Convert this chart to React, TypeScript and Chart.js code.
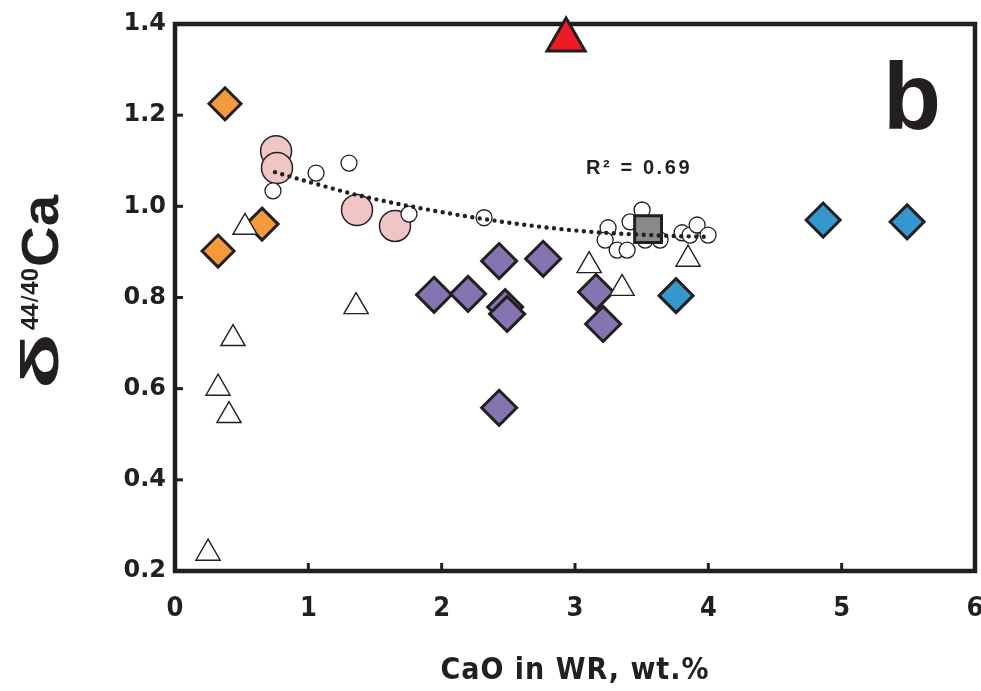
import React, { useEffect, useRef } from 'react';
import { Chart, registerables } from 'chart.js';
Chart.register(...registerables);

// Axis ticks
const xTickValues = [0, 1, 2, 3, 4, 5, 6];
const yTickValues = [0.2, 0.4, 0.6, 0.8, 1.0, 1.2, 1.4];

// Series (CaO wt.% , δ44/40Ca)
const orangeX = [0.375, 0.653, 0.323];
const orangeY = [1.225, 0.961, 0.902];

const redX = [2.933];
const redY = [1.365];

const pinkX = [0.758, 0.765, 1.365, 1.65];
const pinkY = [1.121, 1.084, 0.992, 0.957];

const whiteCircleX = [0.735, 1.058, 1.305, 1.755, 2.318, 3.503, 3.413, 3.248, 3.226, 3.316, 3.391, 3.526, 3.638, 3.803, 3.863, 3.916, 3.998];
const whiteCircleY = [1.034, 1.073, 1.095, 0.983, 0.975, 0.992, 0.966, 0.953, 0.926, 0.904, 0.904, 0.926, 0.926, 0.942, 0.937, 0.959, 0.937];

const triangleX = [0.525, 0.435, 0.323, 0.405, 0.248, 1.358, 3.106, 3.353, 3.848];
const triangleY = [0.954, 0.710, 0.601, 0.541, 0.239, 0.780, 0.870, 0.820, 0.884];

const purpleX = [1.943, 2.198, 2.431, 2.761, 2.476, 2.491, 3.158, 3.211, 2.431];
const purpleY = [0.806, 0.808, 0.880, 0.885, 0.779, 0.764, 0.812, 0.742, 0.558];

const blueX = [3.758, 4.861, 5.491];
const blueY = [0.804, 0.970, 0.966];

const squareX = [3.548];
const squareY = [0.950];

// Trend line
const trendX = [0.75, 1.035, 1.365, 1.95, 2.46, 3.04, 3.64, 4.01];
const trendY = [1.075, 1.051, 1.025, 0.99, 0.966, 0.946, 0.936, 0.933];

const r2Label = 'R² = 0.69';
const panelLabel = 'b';
const xTitle = 'CaO in WR, wt.%';

const pts = (xs: number[], ys: number[]) => xs.map((x, i) => ({ x, y: ys[i] }));

const DARK = '#231f20';

export default function App() {
  const ref = useRef<HTMLCanvasElement | null>(null);

  useEffect(() => {
    const canvas = ref.current;
    if (!canvas) return;

    const framePlugin = {
      id: 'framePlugin',
      beforeDatasetsDraw(chart: any) {
        const { ctx, chartArea } = chart;
        const { left, right, top, bottom } = chartArea;
        const xs = chart.scales.x;
        const ys = chart.scales.y;
        ctx.save();
        ctx.strokeStyle = DARK;
        ctx.lineWidth = 3;
        ctx.lineCap = 'butt';
        yTickValues.forEach((v) => {
          const py = ys.getPixelForValue(v);
          ctx.beginPath();
          ctx.moveTo(left, py);
          ctx.lineTo(left + 8, py);
          ctx.stroke();
        });
        xTickValues.forEach((v) => {
          const px = xs.getPixelForValue(v);
          ctx.beginPath();
          ctx.moveTo(px, bottom);
          ctx.lineTo(px, bottom - 8);
          ctx.stroke();
        });
        ctx.lineWidth = 4.5;
        ctx.lineJoin = 'miter';
        ctx.strokeRect(left, top, right - left, bottom - top);
        ctx.restore();
      },
      afterDraw(chart: any) {
        const { ctx, chartArea } = chart;
        ctx.save();
        ctx.fillStyle = DARK;
        ctx.textBaseline = 'alphabetic';
        ctx.textAlign = 'left';

        // Panel label
        ctx.font = 'bold 95px "Liberation Sans", Arial, sans-serif';
        ctx.fillText(panelLabel, 883, 129);

        // R² label
        ctx.font = 'bold 20px "Liberation Sans", Arial, sans-serif';
        (ctx as any).letterSpacing = '2.6px';
        ctx.fillText(r2Label, 586, 174);
        (ctx as any).letterSpacing = '0px';

        // X title
        ctx.textAlign = 'center';
        ctx.font = 'bold 30px "Liberation Sans Narrow", "DejaVu Sans Condensed", Arial, sans-serif';
        (ctx as any).letterSpacing = '1px';
        ctx.fillText(xTitle, (chartArea.left + chartArea.right) / 2, 679);
        (ctx as any).letterSpacing = '0px';

        // Y title: δ 44/40 Ca, rotated
        const bigFont = 'bold 52px "Liberation Sans", Arial, sans-serif';
        const supFont = 'bold 24px "Liberation Sans", Arial, sans-serif';
        const slashFont = '24px "Liberation Sans", Arial, sans-serif';
        const pieces = [
          { t: 'δ', f: bigFont, dy: 0, gap: 3, target: 56 },
          { t: '44', f: supFont, dy: -20, gap: 1, target: 0 },
          { t: '/', f: slashFont, dy: -20, gap: 1, target: 0 },
          { t: '40', f: supFont, dy: -20, gap: 1, target: 0 },
          { t: 'Ca', f: bigFont, dy: 0, gap: 0, target: 72 },
        ];
        let total = 0;
        const info = pieces.map((p) => {
          ctx.font = p.f;
          const w = ctx.measureText(p.t).width;
          const sx = p.target ? p.target / w : 1;
          total += w * sx + p.gap;
          return { w: w * sx, sx };
        });
        ctx.translate(58, 292);
        ctx.rotate(-Math.PI / 2);
        ctx.textAlign = 'left';
        let cx = -total / 2;
        pieces.forEach((p, i) => {
          ctx.font = p.f;
          ctx.save();
          ctx.translate(cx, p.dy);
          ctx.scale(info[i].sx, 1);
          ctx.fillText(p.t, 0, 0);
          ctx.restore();
          cx += info[i].w + p.gap;
        });
        ctx.restore();
      },
    };

    const chart = new Chart(canvas, {
      type: 'scatter',
      data: {
        datasets: [
          {
            label: 'trend',
            data: pts(trendX, trendY),
            showLine: true,
            pointRadius: 0,
            borderColor: DARK,
            borderWidth: 4.4,
            borderDash: [0, 7.5],
            borderCapStyle: 'round',
            cubicInterpolationMode: 'monotone',
            order: 0,
          } as any,
          {
            label: 'red',
            data: pts(redX, redY),
            pointStyle: 'triangle',
            pointRadius: 22,
            backgroundColor: '#ed1c24',
            borderColor: DARK,
            borderWidth: 3,
            order: 1,
          },
          {
            label: 'square',
            data: pts(squareX, squareY),
            pointStyle: 'rect',
            pointRadius: 19,
            backgroundColor: '#8a8a8a',
            borderColor: DARK,
            borderWidth: 3,
            order: 2,
          },
          {
            label: 'whiteCircles',
            data: pts(whiteCircleX, whiteCircleY),
            pointStyle: 'circle',
            pointRadius: 8,
            backgroundColor: '#ffffff',
            borderColor: DARK,
            borderWidth: 1.3,
            order: 3,
          },
          {
            label: 'pink',
            data: pts(pinkX, pinkY),
            pointStyle: 'circle',
            pointRadius: 15.5,
            backgroundColor: '#efc6c4',
            borderColor: DARK,
            borderWidth: 1.5,
            order: 4,
          },
          {
            label: 'triangles',
            data: pts(triangleX, triangleY),
            pointStyle: 'triangle',
            pointRadius: 14,
            backgroundColor: '#ffffff',
            borderColor: DARK,
            borderWidth: 1.4,
            order: 5,
          },
          {
            label: 'orange',
            data: pts(orangeX, orangeY),
            pointStyle: 'rectRot',
            pointRadius: 16,
            backgroundColor: '#f59a3b',
            borderColor: DARK,
            borderWidth: 3,
            order: 6,
          },
          {
            label: 'purple',
            data: pts(purpleX, purpleY),
            pointStyle: 'rectRot',
            pointRadius: 17.5,
            backgroundColor: '#8674b0',
            borderColor: DARK,
            borderWidth: 3,
            order: 7,
          },
          {
            label: 'blue',
            data: pts(blueX, blueY),
            pointStyle: 'rectRot',
            pointRadius: 17,
            backgroundColor: '#3597cf',
            borderColor: DARK,
            borderWidth: 3,
            order: 8,
          },
        ].map((d: any) => ({ clip: false, pointHoverRadius: d.pointRadius, ...d })),
      },
      options: {
        animation: false,
        responsive: false,
        devicePixelRatio: 1,
        events: [],
        layout: { autoPadding: false, padding: { top: 24, right: 6, left: 0, bottom: 0 } },
        plugins: { legend: { display: false }, tooltip: { enabled: false } },
        scales: {
          x: {
            type: 'linear',
            min: 0,
            max: 6,
            afterFit: (s: any) => { s.height = 120; s.paddingLeft = 0; s.paddingRight = 0; },
            afterBuildTicks: (s: any) => { s.ticks = xTickValues.map((v) => ({ value: v })); },
            grid: { display: false, drawTicks: false },
            border: { display: false },
            ticks: {
              padding: 22,
              color: DARK,
              font: { family: '"Liberation Sans Narrow", "DejaVu Sans Condensed", Arial, sans-serif', size: 27, weight: 'bold' },
              callback: (v: any) => String(v),
            },
          },
          y: {
            type: 'linear',
            min: 0.2,
            max: 1.4,
            afterFit: (s: any) => { s.width = 175; s.paddingTop = 0; s.paddingBottom = 0; },
            afterBuildTicks: (s: any) => { s.ticks = yTickValues.map((v) => ({ value: v })); },
            grid: { display: false, drawTicks: false },
            border: { display: false },
            ticks: {
              padding: 9,
              color: DARK,
              font: { family: '"DejaVu Sans", sans-serif', size: 24, weight: 'bold' },
              callback: (v: any) => Number(v).toFixed(1),
            },
          },
        },
      } as any,
      plugins: [framePlugin],
    });

    return () => chart.destroy();
  }, []);

  return (
    <div style={{ position: 'absolute', left: 0, top: 0, width: 981, height: 691, background: '#ffffff' }}>
      <canvas ref={ref} width={981} height={691} style={{ display: 'block' }} />
    </div>
  );
}
